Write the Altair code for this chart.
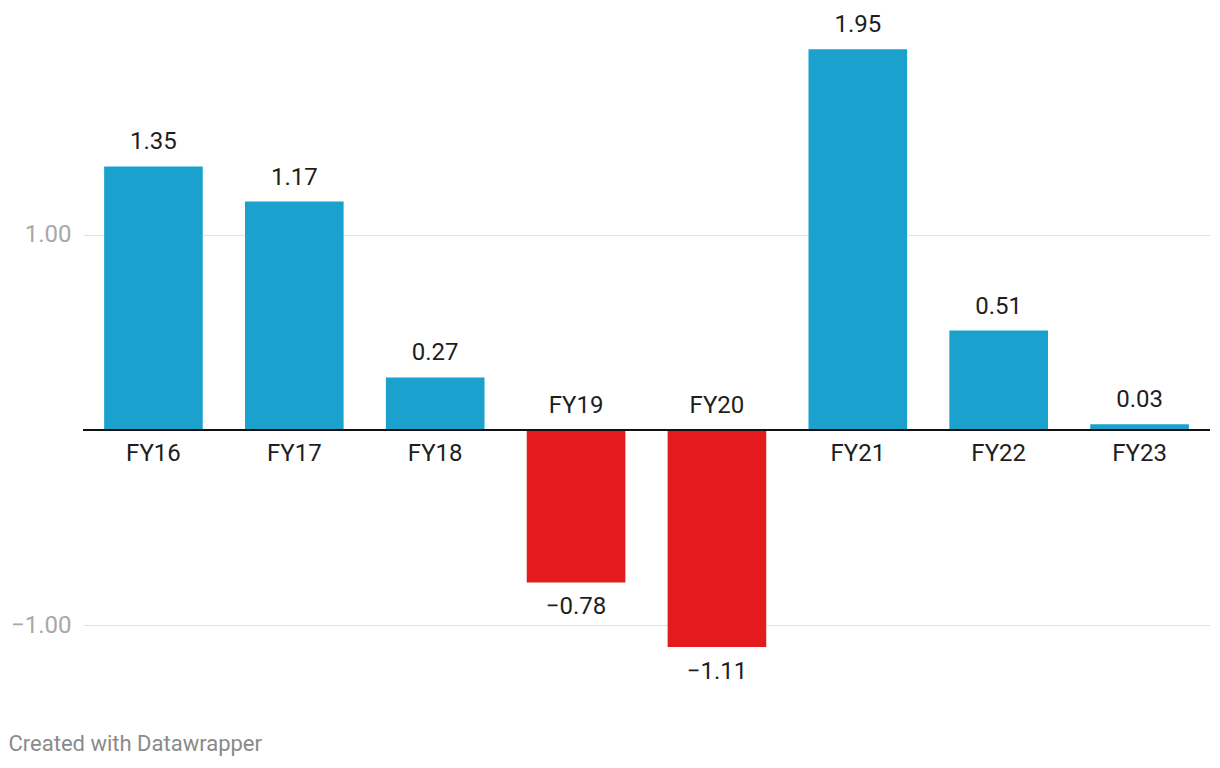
import altair as alt
import pandas as pd

categories = ["FY16", "FY17", "FY18", "FY19", "FY20", "FY21", "FY22", "FY23"]
values = [1.35, 1.17, 0.27, -0.78, -1.11, 1.95, 0.51, 0.03]

df = pd.DataFrame({"cat": categories, "value": values})
df["sign"] = ["pos" if v >= 0 else "neg" for v in values]

FONT = "Roboto"
x = alt.X("cat:N", sort=categories, axis=None,
          scale=alt.Scale(paddingInner=0.3, paddingOuter=0.15))
yscale = alt.Scale(domain=[-1.3, 2.1], nice=False, zero=False)

base = alt.Chart(df)

bars = base.mark_bar().encode(
    x=x,
    y=alt.Y("value:Q", scale=yscale,
            axis=alt.Axis(values=[-1, 1], format=".2f", title=None,
                          domain=False, ticks=False, labelPadding=12,
                          labelFontSize=24, labelColor="#a8a8a8", labelFont=FONT,
                          gridColor="#e2e2e2", gridWidth=1.2)),
    y2=alt.datum(0),
    color=alt.Color("sign:N", scale=alt.Scale(domain=["pos", "neg"],
                                              range=["#1aa1cd", "#e31b1d"]),
                    legend=None),
)

zero = base.mark_rule(color="#111111", strokeWidth=2).encode(y=alt.datum(0))

pos = base.transform_filter(alt.datum.value >= 0)
neg = base.transform_filter(alt.datum.value < 0)

txt = dict(font=FONT, fontSize=24, color="#1e1e1e", baseline="middle")

val_pos = pos.mark_text(dy=-24, **txt).encode(
    x=x, y=alt.Y("value:Q", scale=yscale), text=alt.Text("value:Q", format=".2f"))
val_neg = neg.mark_text(dy=25, **txt).encode(
    x=x, y=alt.Y("value:Q", scale=yscale), text=alt.Text("value:Q", format=".2f"))
cat_pos = pos.mark_text(dy=24, **txt).encode(x=x, y=alt.datum(0), text="cat:N")
cat_neg = neg.mark_text(dy=-24, **txt).encode(x=x, y=alt.datum(0), text="cat:N")

chart = alt.layer(bars, zero, val_pos, val_neg, cat_pos, cat_neg).properties(
    width=1127, height=664,
    background="white",
    autosize=alt.AutoSizeParams(type="none"),
    padding={"left": 75, "top": 12, "right": 2, "bottom": 82},
    title=alt.TitleParams("Created with Datawrapper", orient="bottom", anchor="start",
                          align="left", dx=-2, offset=50, fontSize=22, font=FONT,
                          fontWeight="normal", color="#8a8a8a"),
).configure_view(stroke="transparent", strokeWidth=0)

chart.save("out.html", embed_options={"renderer": "svg", "actions": False})
